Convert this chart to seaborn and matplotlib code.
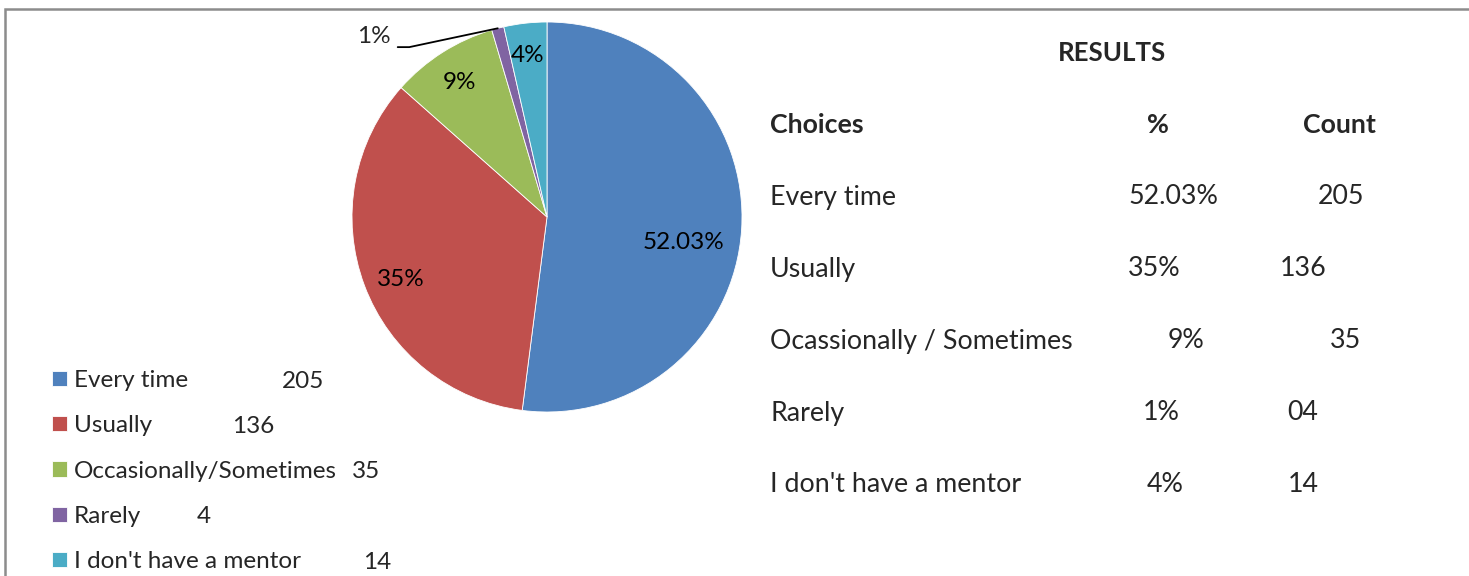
import matplotlib
matplotlib.use("Agg")
import matplotlib.pyplot as plt
import matplotlib.patches as mpatches
import seaborn as sns
import numpy as np

# survey data
choices = ["Every time", "Usually", "Occasionally/Sometimes", "Rarely", "I don't have a mentor"]
counts = [205, 136, 35, 4, 14]
pct_labels = ["52.03%", "35%", "9%", "1%", "4%"]

# results table (text as shown on the right)
table_choices = ["Every time", "Usually", "Ocassionally / Sometimes", "Rarely", "I don't have a mentor"]
table_pct = ["52.03%", "35%", "9%", "1%", "4%"]
table_count = ["205", "136", "35", "04", "14"]

colors = ["#4F81BD", "#C0504D", "#9BBB59", "#8064A2", "#4BACC6"]

sns.set_theme(style="white")
plt.rcParams['font.family'] = ['Lato', 'DejaVu Sans']

W, H = 1469, 576
fig = plt.figure(figsize=(W / 100, H / 100), dpi=100)


def fx(px):
    return px / W


def fy(py):
    return 1 - py / H


# pie axes: center (547, 217), radius 195 px
R = 195
half = 220
ax = fig.add_axes([fx(547 - half), fy(217 + half), 2 * half / W, 2 * half / H])
wedges, _ = ax.pie(counts, colors=colors, startangle=90, counterclock=False,
                   radius=1, wedgeprops=dict(edgecolor='white', linewidth=0.6))
lim = half / R
ax.set_xlim(-lim, lim)
ax.set_ylim(-lim, lim)
ax.set_aspect('equal')
ax.axis('off')

# percentage labels (best-fit placement like the original)
label_pos = [(0.70, -0.13), (-0.75, -0.32), (-0.45, 0.69), (-0.10, 0.83)]
for lbl, (x, y) in zip([pct_labels[0], pct_labels[1], pct_labels[2], pct_labels[4]], label_pos):
    ax.text(x, y, lbl, ha='center', va='center', fontsize=17.5, color='black')

# 1% slice label with leader line
start = 90 - 360 * sum(counts[:3]) / sum(counts)
mid = start - 360 * counts[3] / sum(counts) / 2
tip = (np.cos(np.radians(mid)), np.sin(np.radians(mid)))
ax.annotate(pct_labels[3], xy=tip, xytext=(-0.89, 0.925), ha='center', va='center',
            fontsize=17.5, annotation_clip=False,
            arrowprops=dict(arrowstyle='-', color='black', lw=1.3, shrinkA=3, shrinkB=0,
                            relpos=(1, 0.0),
                            connectionstyle="angle,angleA=0,angleB=12,rad=0"))

# legend
leg = fig.legend(wedges, choices, loc='upper left', bbox_to_anchor=(fx(52), fy(370)),
                 frameon=False, fontsize=17.5, handlelength=0.6, handleheight=0.6,
                 handletextpad=0.3, labelspacing=1.0, borderpad=0, borderaxespad=0)
count_x = [282, 232, 352, 197, 363]
for i, (c, x) in enumerate(zip(counts, count_x)):
    fig.text(fx(x), fy(381 + 45.3 * i), str(c), ha='left', va='center', fontsize=17.5)

# results table
fig.text(fx(1112), fy(53), "RESULTS", ha='center', va='center', fontsize=18.5, fontweight='bold')
fig.text(fx(770), fy(125), "Choices", ha='left', va='center', fontsize=19.3, fontweight='bold')
fig.text(fx(1158), fy(125), "%", ha='center', va='center', fontsize=19.3, fontweight='bold')
fig.text(fx(1339), fy(125), "Count", ha='center', va='center', fontsize=19.3, fontweight='bold')
pct_x = [1128, 1128, 1168, 1143, 1147]
cnt_x = [1318, 1280, 1330, 1287, 1288]
for i in range(len(table_choices)):
    y = fy(197 + 72 * i)
    fig.text(fx(770), y, table_choices[i], ha='left', va='center', fontsize=19.3)
    fig.text(fx(pct_x[i]), y, table_pct[i], ha='left', va='center', fontsize=19.3)
    fig.text(fx(cnt_x[i]), y, table_count[i], ha='left', va='center', fontsize=19.3)

# outer border (left and top edges visible)
fig.add_artist(mpatches.Rectangle((fx(5), fy(600)), fx(1500), (600 - 9) / H,
                                  transform=fig.transFigure, fill=False,
                                  edgecolor='#8C8C8C', linewidth=1.8, clip_on=False))

fig.savefig("out.png", dpi=100)
